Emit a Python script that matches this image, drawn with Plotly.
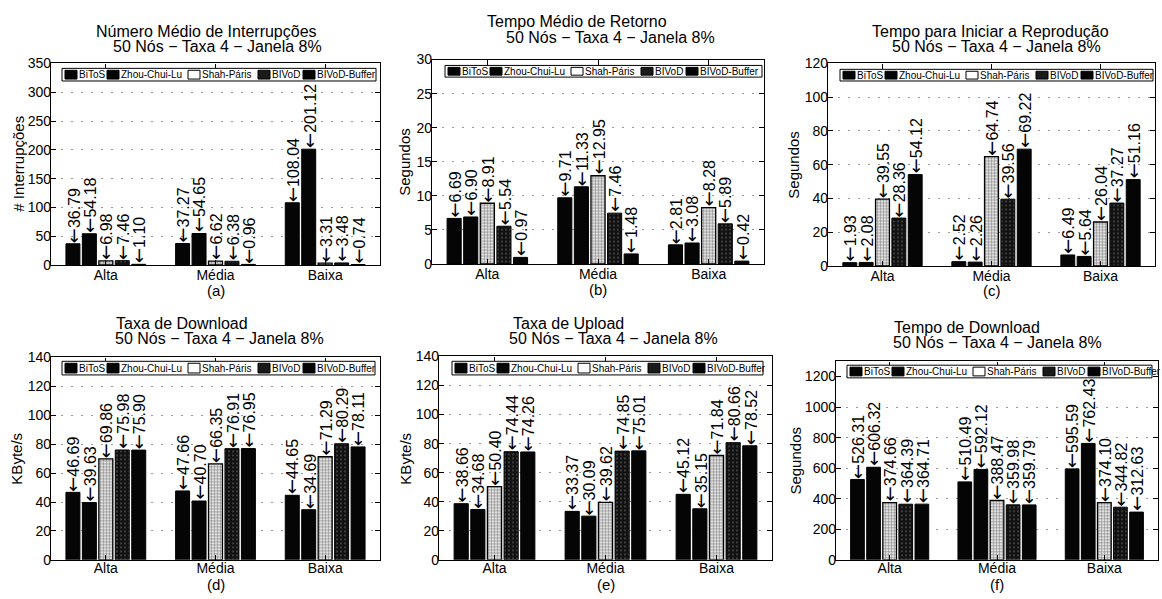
import plotly.graph_objects as go

W, H = 1162, 599
FONT = "Liberation Sans, Arial, Helvetica, sans-serif"
ARROW = '<span style="font-family:DejaVu Sans;font-size:18px">←</span>'

categories = ["Alta", "Média", "Baixa"]
series_names = ["BiToS", "Zhou-Chui-Lu", "Shah-Páris", "BIVoD", "BIVoD-Buffer"]
subtitle = "50 Nós − Taxa 4 − Janela 8%"

# one row per series (BiToS, Zhou-Chui-Lu, Shah-Páris, BIVoD, BIVoD-Buffer), one column per category
interrupcoes = [
    [36.79, 37.27, 108.04],
    [54.18, 54.65, 201.12],
    [6.98, 6.62, 3.31],
    [7.46, 6.38, 3.48],
    [1.10, 0.96, 0.74],
]
retorno = [
    [6.69, 9.71, 2.81],
    [6.90, 11.33, 3.08],
    [8.91, 12.95, 8.28],
    [5.54, 7.46, 5.89],
    [0.97, 1.48, 0.42],
]
inicio_reproducao = [
    [1.93, 2.52, 6.49],
    [2.08, 2.26, 5.64],
    [39.55, 64.74, 26.04],
    [28.36, 39.56, 37.27],
    [54.12, 69.22, 51.16],
]
taxa_download = [
    [46.69, 47.66, 44.65],
    [39.63, 40.70, 34.69],
    [69.86, 66.35, 71.29],
    [75.98, 76.91, 80.29],
    [75.90, 76.95, 78.11],
]
taxa_upload = [
    [38.66, 33.37, 45.12],
    [34.68, 30.09, 35.15],
    [50.40, 39.62, 71.84],
    [74.44, 74.85, 80.66],
    [74.26, 75.01, 78.52],
]
tempo_download = [
    [526.31, 510.49, 595.59],
    [606.32, 592.12, 762.43],
    [374.66, 388.47, 374.10],
    [364.39, 359.98, 344.82],
    [364.71, 359.79, 312.63],
]


def fx(p):
    return p / W


def fy(p):
    return 1 - p / H


# panel layout in pixels: plot box (left, right, top, bottom), title line centres, y-title centre
panels = [
    dict(data=interrupcoes, title="Número Médio de Interrupções", ytitle="# Interrupções",
         yrange=[0, 350], dtick=50, tag="(a)", box=(51, 380, 57, 264),
         t1=(206, 24), t2=(217, 40), yt=(19, 160), tagy=290, catpad=-3,
         leg=(62, 376, 62, 75)),
    dict(data=retorno, title="Tempo Médio de Retorno", ytitle="Segundos",
         yrange=[0, 30], dtick=5, tag="(b)", box=(432, 764, 53, 263),
         t1=(577, 14), t2=(610, 30), yt=(405, 158), tagy=289, catpad=-3,
         leg=(445, 762, 59, 71)),
    dict(data=inicio_reproducao, title="Tempo para Iniciar a Reprodução", ytitle="Segundos",
         yrange=[0, 120], dtick=20, tag="(c)", box=(828, 1155, 57, 265),
         t1=(990, 24), t2=(996, 40), yt=(794, 161), tagy=290, catpad=-3,
         leg=(840, 1153, 63, 75)),
    dict(data=taxa_download, title="Taxa de Download", ytitle="KByte/s",
         yrange=[0, 140], dtick=20, tag="(d)", box=(51, 380, 359, 567),
         t1=(182, 324), t2=(219, 340), yt=(17, 463), tagy=592, catpad=-5,
         leg=(62, 375, 363, 377)),
    dict(data=taxa_upload, title="Taxa de Upload", ytitle="KByte/s",
         yrange=[0, 140], dtick=20, tag="(e)", box=(439, 772, 358, 567),
         t1=(568, 324), t2=(613, 340), yt=(406, 463), tagy=592, catpad=-5,
         leg=(452, 763, 363, 377)),
    dict(data=tempo_download, title="Tempo de Download", ytitle="Segundos",
         yrange=[0, 1300], dtick=200, tag="(f)", box=(836, 1158, 363, 567),
         t1=(967, 328), t2=(997, 344), yt=(796, 465), tagy=592, catpad=-5,
         leg=(847, 1152, 367, 380)),
]

# bar styles: solid black, speckled light (Shah-Páris), speckled dark (BIVoD)
bar_styles = [
    dict(color="#050505", line=dict(color="black", width=1)),
    dict(color="#050505", line=dict(color="black", width=1)),
    dict(color="white", line=dict(color="black", width=1.3),
         pattern=dict(shape=".", fgcolor="#222222", bgcolor="white", size=3, solidity=0.55)),
    dict(color="#111111", line=dict(color="black", width=1),
         pattern=dict(shape=".", fgcolor="#7a7a7a", bgcolor="#111111", size=4, solidity=0.22)),
    dict(color="#050505", line=dict(color="black", width=1)),
]
legend_fill = ["#050505", "#050505", "white", "#1a1a1a", "#050505"]
legend_offsets = [3, 45, 126, 196, 241]

BARGAP = 0.25
n_series = len(series_names)
slot = (1 - BARGAP) / n_series
xpos = [1, 2, 3]

fig = go.Figure()
annotations = []
shapes = []
layout_axes = {}

for i, p in enumerate(panels, start=1):
    xa, ya = f"x{i}", f"y{i}"
    L, R, T, B = p["box"]

    for s, name in enumerate(series_names):
        fig.add_trace(go.Bar(
            x=xpos, y=p["data"][s], name=name, xaxis=xa, yaxis=ya,
            marker=bar_styles[s], showlegend=False,
        ))
        # value labels with a down-pointing arrow on top of each bar
        for c, v in enumerate(p["data"][s]):
            annotations.append(dict(
                x=xpos[c] + (s - (n_series - 1) / 2) * slot, y=v, xref=xa, yref=ya,
                text=ARROW + f"{v:.2f}", textangle=-90, showarrow=False,
                xanchor="center", yanchor="bottom", borderpad=0,
                font=dict(family=FONT, size=16, color="black"),
            ))

    axis_common = dict(
        showline=True, linecolor="black", linewidth=1.4, mirror="ticks",
        ticks="inside", ticklen=5, tickcolor="black", tickwidth=1,
        tickfont=dict(family=FONT, size=14, color="black"),
    )
    layout_axes[f"xaxis{i}"] = dict(
        axis_common, domain=[fx(L), fx(R)], anchor=ya, range=[0.5, 3.5],
        tickvals=xpos, ticktext=categories, showgrid=False, zeroline=False,
        ticklabelstandoff=p["catpad"],
    )
    layout_axes[f"yaxis{i}"] = dict(
        axis_common, domain=[fy(B), fy(T)], anchor=xa, range=p["yrange"],
        dtick=p["dtick"], showgrid=True, gridcolor="#9a9a9a", gridwidth=1,
        griddash="2px,8px", zeroline=False, ticklabelstandoff=-4,
    )

    # two-line title
    annotations.append(dict(x=fx(p["t1"][0]), y=fy(p["t1"][1]), xref="paper", yref="paper",
                            text=p["title"], showarrow=False, xanchor="center", yanchor="middle",
                            borderpad=0, font=dict(family=FONT, size=16, color="black")))
    annotations.append(dict(x=fx(p["t2"][0]), y=fy(p["t2"][1]), xref="paper", yref="paper",
                            text=subtitle, showarrow=False, xanchor="center", yanchor="middle",
                            borderpad=0, font=dict(family=FONT, size=16, color="black")))
    # y-axis title
    annotations.append(dict(x=fx(p["yt"][0]), y=fy(p["yt"][1]), xref="paper", yref="paper",
                            text=p["ytitle"], textangle=-90, showarrow=False,
                            xanchor="center", yanchor="middle",
                            font=dict(family=FONT, size=15, color="black")))
    # panel tag below the categories
    annotations.append(dict(x=fx((L + R) / 2), y=fy(p["tagy"]), xref="paper", yref="paper",
                            text=p["tag"], showarrow=False, xanchor="center", yanchor="middle",
                            borderpad=0, font=dict(family=FONT, size=15, color="black")))

    # horizontal legend box along the top of the plot
    lL, lR, lT, lB = p["leg"]
    shapes.append(dict(type="rect", xref="paper", yref="paper",
                       x0=fx(lL), x1=fx(lR), y0=fy(lB), y1=fy(lT),
                       line=dict(color="black", width=1), fillcolor="white", layer="above"))
    for s, name in enumerate(series_names):
        sx = lL + legend_offsets[s]
        shapes.append(dict(type="rect", xref="paper", yref="paper",
                           x0=fx(sx), x1=fx(sx + 12), y0=fy(lB - 2), y1=fy(lT + 2),
                           line=dict(color="black", width=1), fillcolor=legend_fill[s],
                           layer="above"))
        annotations.append(dict(x=fx(sx + 13), y=fy((lT + lB) / 2), xref="paper", yref="paper",
                                text=name, showarrow=False, xanchor="left", yanchor="middle",
                                borderpad=0,
                                font=dict(family=FONT, size=10, color="black")))

fig.update_layout(
    width=W, height=H, margin=dict(l=0, r=0, t=0, b=0),
    paper_bgcolor="white", plot_bgcolor="white",
    barmode="group", bargap=BARGAP, bargroupgap=0.15,
    showlegend=False, annotations=annotations, shapes=shapes,
    font=dict(family=FONT, color="black"),
    **layout_axes,
)

fig.write_html("out.html")
